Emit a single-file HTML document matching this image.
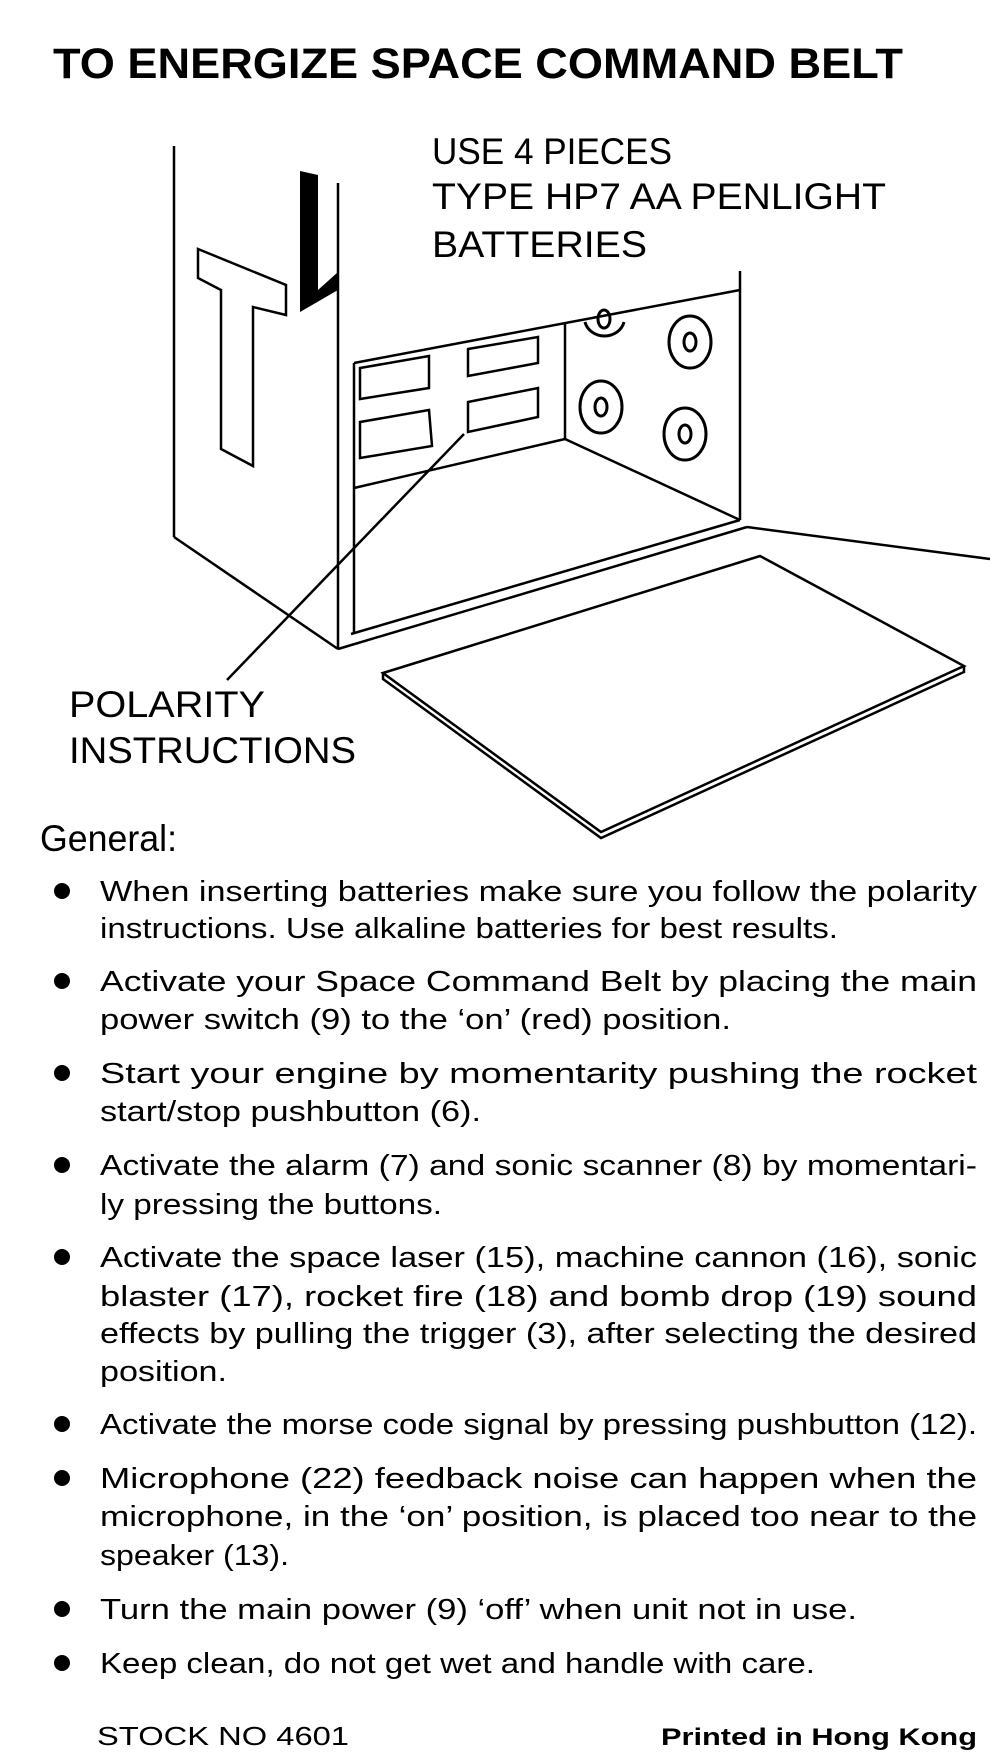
<!DOCTYPE html>
<html><head><meta charset="utf-8"><style>
html,body{margin:0;padding:0;background:#fff;}
svg{display:block;}
text{font-family:"Liberation Sans",sans-serif;fill:#000;}
</style></head><body>
<svg width="1006" height="1762" viewBox="0 0 1006 1762" xmlns="http://www.w3.org/2000/svg">
<text x="53" y="78" font-size="43" font-weight="bold" textLength="850" lengthAdjust="spacingAndGlyphs">TO ENERGIZE SPACE COMMAND BELT</text>

<g fill="none" stroke="#000" stroke-width="2.5">
<line x1="174" y1="146" x2="174" y2="537"/>
<line x1="174" y1="537" x2="338" y2="649"/>
<line x1="338" y1="183" x2="338" y2="649"/>
<polygon points="198,249 286,285 286,315 253,307 253,466 221,449 221,290 198,278"/>
<line x1="740" y1="271" x2="740" y2="520"/>
<line x1="354" y1="363" x2="740" y2="290"/>
<line x1="354" y1="363" x2="354" y2="634"/>
<line x1="351" y1="634" x2="740" y2="520"/>
<line x1="338" y1="649" x2="747" y2="527"/>
<line x1="565" y1="324" x2="565" y2="439"/>
<line x1="565" y1="439" x2="740" y2="520"/>
<line x1="354" y1="488" x2="565" y2="439"/>
<line x1="747" y1="527" x2="990" y2="559"/>
<line x1="464" y1="434" x2="227" y2="680"/>
<polygon points="360,368 429,356 429,388 360,399"/>
<polygon points="468,349 538,337 538,363 468,376"/>
<polygon points="360,422 429,410 432,446 360,458"/>
<polygon points="468,402 538,388 538,417 468,432"/>
<polygon points="383,673 760,556 964,666 601,832"/>
<polyline points="383,673 383,679 601,838 964,672 964,666"/>
</g>
<g fill="none" stroke="#000" stroke-width="3">
<path d="M585,322 A20,18 0 0 0 624,322"/>
<ellipse cx="604" cy="319" rx="6" ry="9"/>
<ellipse cx="690" cy="342" rx="21" ry="26"/><ellipse cx="690" cy="342" rx="6" ry="9"/>
<ellipse cx="601" cy="407" rx="21" ry="26"/><ellipse cx="601" cy="407" rx="6" ry="9"/>
<ellipse cx="685" cy="434" rx="21" ry="26"/><ellipse cx="685" cy="434" rx="6" ry="9"/>
</g>
<polygon points="300,171 318,175 318,290 338,272 338,290 300,312" fill="#000"/>

<g font-size="37">
<text x="432" y="164" textLength="240" lengthAdjust="spacingAndGlyphs">USE 4 PIECES</text>
<text x="432" y="209" textLength="454" lengthAdjust="spacingAndGlyphs">TYPE HP7 AA PENLIGHT</text>
<text x="432" y="257" textLength="215" lengthAdjust="spacingAndGlyphs">BATTERIES</text>
<text x="69" y="717" textLength="196" lengthAdjust="spacingAndGlyphs">POLARITY</text>
<text x="69" y="763" textLength="287" lengthAdjust="spacingAndGlyphs">INSTRUCTIONS</text>
<text x="40" y="851" textLength="137" lengthAdjust="spacingAndGlyphs">General:</text>
</g>

<g fill="#000">
<circle cx="62" cy="891" r="8"/><circle cx="62" cy="981" r="8"/><circle cx="62" cy="1073" r="8"/>
<circle cx="62" cy="1165" r="8"/><circle cx="62" cy="1257" r="8"/><circle cx="62" cy="1424" r="8"/>
<circle cx="62" cy="1478" r="8"/><circle cx="62" cy="1609" r="8"/><circle cx="62" cy="1663" r="8"/>
</g>
<g font-size="29">
<text x="100" y="901" textLength="877" lengthAdjust="spacingAndGlyphs">When inserting batteries make sure you follow the polarity</text>
<text x="100" y="938" textLength="738" lengthAdjust="spacingAndGlyphs">instructions. Use alkaline batteries for best results.</text>
<text x="100" y="991" textLength="877" lengthAdjust="spacingAndGlyphs">Activate your Space Command Belt by placing the main</text>
<text x="100" y="1029" textLength="631" lengthAdjust="spacingAndGlyphs">power switch (9) to the ‘on’ (red) position.</text>
<text x="100" y="1083" textLength="877" lengthAdjust="spacingAndGlyphs">Start your engine by momentarity pushing the rocket</text>
<text x="100" y="1121" textLength="381" lengthAdjust="spacingAndGlyphs">start/stop pushbutton (6).</text>
<text x="100" y="1175" textLength="877" lengthAdjust="spacingAndGlyphs">Activate the alarm (7) and sonic scanner (8) by momentari-</text>
<text x="100" y="1214" textLength="342" lengthAdjust="spacingAndGlyphs">ly pressing the buttons.</text>
<text x="100" y="1267" textLength="877" lengthAdjust="spacingAndGlyphs">Activate the space laser (15), machine cannon (16), sonic</text>
<text x="100" y="1306" textLength="877" lengthAdjust="spacingAndGlyphs">blaster (17), rocket fire (18) and bomb drop (19) sound</text>
<text x="100" y="1343" textLength="877" lengthAdjust="spacingAndGlyphs">effects by pulling the trigger (3), after selecting the desired</text>
<text x="100" y="1381" textLength="127" lengthAdjust="spacingAndGlyphs">position.</text>
<text x="100" y="1434" textLength="877" lengthAdjust="spacingAndGlyphs">Activate the morse code signal by pressing pushbutton (12).</text>
<text x="100" y="1488" textLength="877" lengthAdjust="spacingAndGlyphs">Microphone (22) feedback noise can happen when the</text>
<text x="100" y="1526" textLength="877" lengthAdjust="spacingAndGlyphs">microphone, in the ‘on’ position, is placed too near to the</text>
<text x="100" y="1565" textLength="189" lengthAdjust="spacingAndGlyphs">speaker (13).</text>
<text x="100" y="1619" textLength="757" lengthAdjust="spacingAndGlyphs">Turn the main power (9) ‘off’ when unit not in use.</text>
<text x="100" y="1673" textLength="715" lengthAdjust="spacingAndGlyphs">Keep clean, do not get wet and handle with care.</text>
</g>
<text x="97" y="1745" font-size="26" textLength="252" lengthAdjust="spacingAndGlyphs">STOCK NO 4601</text>
<text x="661" y="1745" font-size="24" font-weight="bold" textLength="316" lengthAdjust="spacingAndGlyphs">Printed in Hong Kong</text>
</svg>
</body></html>
